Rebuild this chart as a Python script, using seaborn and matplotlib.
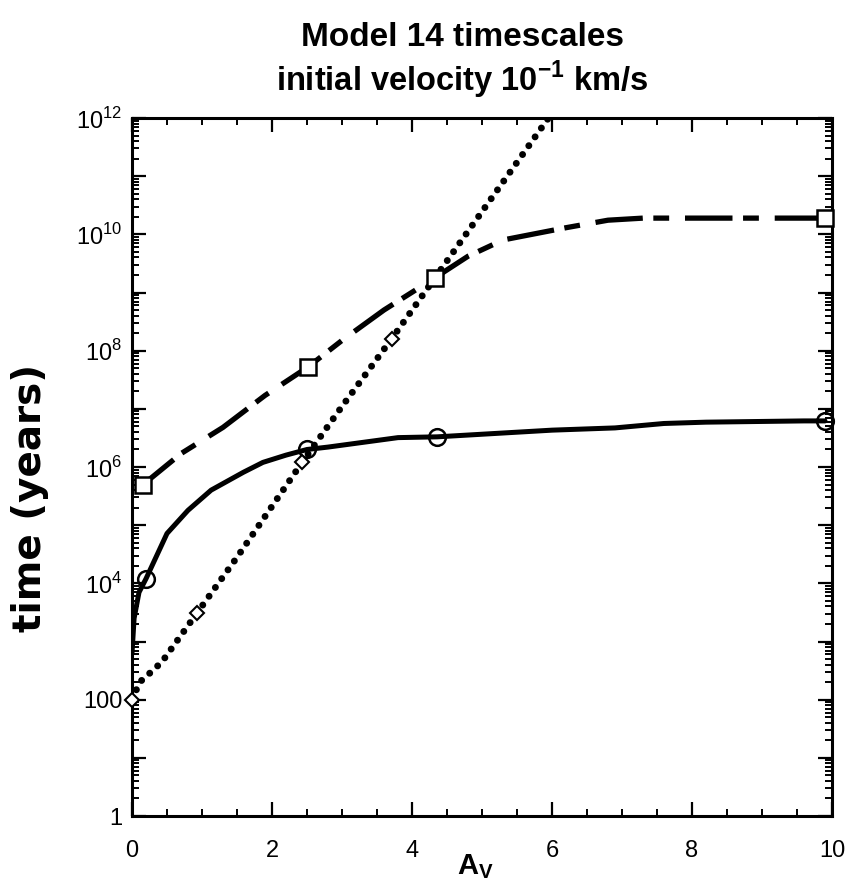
import numpy as np
import seaborn as sns
import matplotlib
matplotlib.use("Agg")
import matplotlib.pyplot as plt
from matplotlib.ticker import LogLocator, MultipleLocator, FixedLocator, FuncFormatter

# dashed curve (squares)
dash_av = [0.05, 0.16, 0.7, 1.3, 1.9, 2.51, 3.0, 3.6, 4.33, 4.8, 5.3, 6.2, 6.8, 7.3, 9.9]
dash_t = [4.5e5, 5.0e5, 1.7e6, 4.8e6, 1.7e7, 5.2e7, 1.5e8, 5.0e8, 1.8e9, 4.2e9, 8.0e9,
          1.3e10, 1.75e10, 1.9e10, 1.9e10]
# solid curve (circles)
solid_av = [0, 0.03, 0.1, 0.2, 0.5, 0.8, 1.13, 1.59, 1.87, 2.2, 2.5, 2.8, 3.8, 4.36,
            6.0, 6.9, 7.6, 8.2, 9.6, 9.9]
solid_t = [630, 2.5e3, 7.0e3, 1.2e4, 7.2e4, 1.8e5, 4.0e5, 8.1e5, 1.2e6, 1.6e6, 2.0e6,
           2.2e6, 3.2e6, 3.3e6, 4.3e6, 4.7e6, 5.6e6, 5.9e6, 6.2e6, 6.2e6]
# dotted curve (diamonds)
dot_av = [0, 0.11, 0.3, 0.43, 0.93, 1.5, 2.43, 3.0, 3.71, 4.3, 5.95]
dot_t = [100, 200, 320, 450, 3.1e3, 2.8e4, 1.2e6, 1.1e7, 1.6e8, 1.6e9, 1e12]

sq_av = [0.16, 2.51, 4.33, 9.9]
sq_t = [5.0e5, 5.2e7, 1.8e9, 1.9e10]
circ_av = [0.2, 2.5, 4.36, 9.9]
circ_t = [1.2e4, 2.0e6, 3.3e6, 6.2e6]
dia_av = [0, 0.93, 2.43, 3.71]
dia_t = [100, 3.1e3, 1.2e6, 1.6e8]

sns.set_style("ticks")
plt.rcParams['font.family'] = ['Liberation Sans', 'DejaVu Sans']
plt.rcParams['mathtext.fontset'] = 'custom'
plt.rcParams['mathtext.rm'] = 'Liberation Sans'
plt.rcParams['mathtext.bf'] = 'Liberation Sans:bold'
for key in ['text.color', 'axes.labelcolor', 'xtick.color', 'ytick.color', 'axes.edgecolor']:
    plt.rcParams[key] = 'black'

fig = plt.figure(figsize=(8.51, 8.80), dpi=100)
ax = fig.add_axes([132/851, 64/880, 700/851, 698/880])
ax.set_yscale('log')

sns.lineplot(x=dash_av, y=dash_t, ax=ax, color='black', linewidth=3.8,
             sort=False, estimator=None, linestyle=(0, (9, 2, 3, 3)))
sns.lineplot(x=solid_av, y=solid_t, ax=ax, color='black', linewidth=3.6,
             sort=False, estimator=None)
sns.lineplot(x=dot_av, y=dot_t, ax=ax, color='black', linewidth=5,
             sort=False, estimator=None, linestyle=(0, (0.01, 1.55)),
             dash_capstyle='round')

ax.plot(sq_av, sq_t, ls='none', marker='s', ms=11, mfc='white', mec='black', mew=1.8,
        clip_on=False, zorder=5)
ax.plot(circ_av, circ_t, ls='none', marker='o', ms=12, mfc='none', mec='black', mew=1.8,
        clip_on=False, zorder=5)
ax.plot(dia_av, dia_t, ls='none', marker='D', ms=7, mfc='white', mec='black', mew=1.5,
        clip_on=False, zorder=5)

ax.set_xlim(0, 10)
ax.set_ylim(1, 1e12)
ax.xaxis.set_major_locator(MultipleLocator(2))
ax.xaxis.set_minor_locator(MultipleLocator(0.5))
ax.yaxis.set_major_locator(FixedLocator([10.0**k for k in range(13)]))
ax.yaxis.set_minor_locator(LogLocator(base=10, subs=np.arange(2, 10), numticks=30))


def ylab(v, pos):
    k = int(round(np.log10(v)))
    if k % 2:
        return ''
    if k == 0:
        return '1'
    if k == 2:
        return '100'
    return '$10^{%d}$' % k


ax.yaxis.set_major_formatter(FuncFormatter(ylab))
ax.xaxis.set_major_formatter(FuncFormatter(lambda v, p: '%d' % v))

for s in ax.spines.values():
    s.set_linewidth(2.2)
    s.set_color('black')
ax.tick_params(which='both', direction='in', top=True, right=True, color='black')
ax.tick_params(which='major', length=10, width=1.6, labelsize=17)
ax.tick_params(which='minor', length=5, width=1.4)
ax.tick_params(axis='x', which='major', pad=17)
ax.tick_params(axis='y', which='major', pad=7)

ax.set_ylabel('time (years)', fontsize=28, fontweight='bold', family='DejaVu Sans')
ax.yaxis.set_label_coords(-0.118, 0.455)
ax.set_xlabel(r'A$_\mathbf{V}$', fontsize=21, fontweight='bold', va='top')
ax.xaxis.set_label_coords(0.49, -0.052)

fig.text(0.543, 0.957, 'Model 14 timescales', ha='center', va='center',
         fontsize=24, fontweight='bold')
fig.text(0.543, 0.909, r'initial velocity 10$^{\mathbf{-1}}$ km/s', ha='center', va='center',
         fontsize=23.5, fontweight='bold')

fig.savefig('out.png', dpi=100)
